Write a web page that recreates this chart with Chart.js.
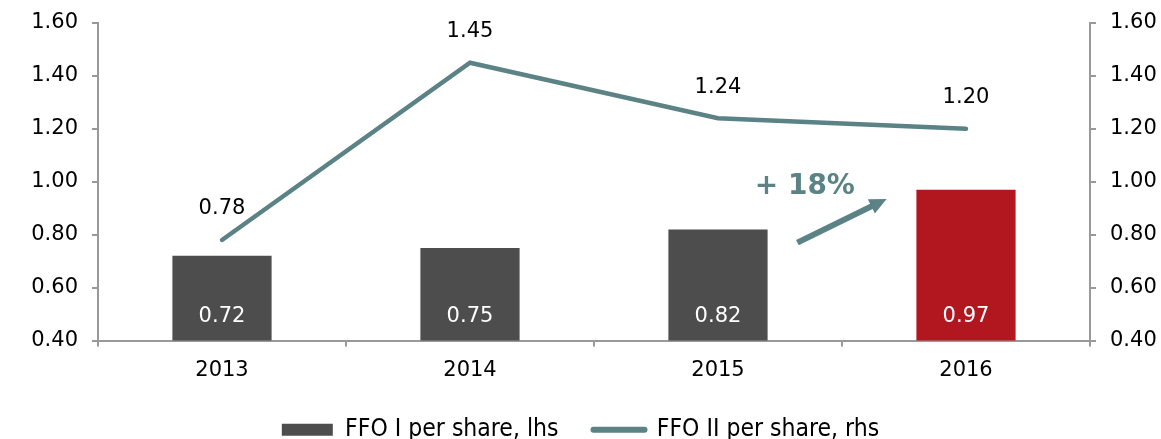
<!DOCTYPE html>
<html>
<head>
<meta charset="utf-8">
<script src="https://cdn.jsdelivr.net/npm/chart.js@4"></script>
<style>
  html, body { margin: 0; padding: 0; background: #fff; }
  #wrap { width: 1161px; height: 439px; }
</style>
</head>
<body>
<div id="wrap"><canvas id="grafica"></canvas></div>
<script>
const anios = ['2013', '2014', '2015', '2016'];
const ffo1 = [0.72, 0.75, 0.82, 0.97];
const ffo2 = [0.78, 1.45, 1.24, 1.20];
const coloresBarra = ['#4d4d4d', '#4d4d4d', '#4d4d4d', '#b2161f'];
const crecimiento = '+ 18%';

const verde = '#5b8385';
const fuente = 'DejaVu Sans, Verdana, sans-serif';

// etiquetas de valores y la flecha de crecimiento
const extras = {
  id: 'extras',
  afterDatasetsDraw(chart) {
    const ctx = chart.ctx;
    const x = chart.scales.x, y = chart.scales.y;
    const abajo = chart.chartArea.bottom;
    ctx.save();
    ctx.font = '21px ' + fuente;
    ctx.textAlign = 'center';
    ctx.textBaseline = 'middle';

    chart.getDatasetMeta(0).data.forEach((bar, i) => {
      ctx.fillStyle = '#ffffff';
      ctx.fillText(ffo1[i].toFixed(2), bar.x, abajo - 24);
    });
    chart.getDatasetMeta(1).data.forEach((pt, i) => {
      ctx.fillStyle = '#000000';
      ctx.fillText(ffo2[i].toFixed(2), pt.x, pt.y - 31);
    });

    // flecha
    const x0 = x.getPixelForValue(2.32), y0 = y.getPixelForValue(0.77);
    const x1 = x.getPixelForValue(2.68), y1 = y.getPixelForValue(0.935);
    const ang = Math.atan2(y1 - y0, x1 - x0);
    const head = 17;
    ctx.strokeStyle = verde;
    ctx.fillStyle = verde;
    ctx.lineWidth = 6;
    ctx.beginPath();
    ctx.moveTo(x0, y0);
    ctx.lineTo(x1 - Math.cos(ang) * head * 0.8, y1 - Math.sin(ang) * head * 0.8);
    ctx.stroke();
    ctx.beginPath();
    ctx.moveTo(x1, y1);
    ctx.lineTo(x1 - head * Math.cos(ang) + 8 * Math.sin(ang), y1 - head * Math.sin(ang) - 8 * Math.cos(ang));
    ctx.lineTo(x1 - head * Math.cos(ang) - 8 * Math.sin(ang), y1 - head * Math.sin(ang) + 8 * Math.cos(ang));
    ctx.closePath();
    ctx.fill();

    ctx.font = 'bold 28px ' + fuente;
    ctx.fillText(crecimiento, x.getPixelForValue(2.35), y.getPixelForValue(0.981));
    ctx.restore();
  }
};

const ejeY = (pos, ancho) => ({
  type: 'linear',
  position: pos,
  min: 0.4,
  max: 1.6,
  afterFit: s => { s.width = ancho; },
  border: { color: '#999999', width: 2 },
  grid: { drawOnChartArea: false, tickLength: 6, color: '#999999', lineWidth: 2 },
  ticks: {
    stepSize: 0.2,
    padding: 14,
    color: '#000000',
    font: { family: fuente, size: 21, lineHeight: 0.8 },
    callback: v => v.toFixed(2)
  }
});

new Chart(document.getElementById('grafica'), {
  type: 'bar',
  data: {
    labels: anios,
    datasets: [{
      label: 'FFO I per share, lhs',
      data: ffo1,
      backgroundColor: coloresBarra,
      borderWidth: 0,
      categoryPercentage: 0.8,
      barPercentage: 0.5,
      yAxisID: 'y',
      pointStyle: 'rect',
      order: 2
    }, {
      type: 'line',
      label: 'FFO II per share, rhs',
      data: ffo2,
      borderColor: verde,
      backgroundColor: verde,
      borderWidth: 4.5,
      borderCapStyle: 'round',
      pointRadius: 0,
      tension: 0,
      yAxisID: 'y1',
      pointStyle: 'line',
      order: 1
    }]
  },
  options: {
    responsive: true,
    maintainAspectRatio: false,
    animation: false,
    layout: { padding: { top: 23, bottom: -13, left: 0, right: 0 } },
    plugins: {
      tooltip: { enabled: false },
      legend: {
        position: 'bottom',
        labels: {
          usePointStyle: true,
          pointStyleWidth: 51,
          boxHeight: 12,
          padding: 35,
          color: '#000000',
          font: { family: 'DejaVu Sans Condensed, DejaVu Sans, sans-serif', size: 24.5 },
          generateLabels: chart => chart.data.datasets.map((d, i) => ({
            text: d.label,
            fillStyle: i === 0 ? '#4d4d4d' : verde,
            strokeStyle: i === 0 ? '#4d4d4d' : verde,
            lineWidth: i === 0 ? 0 : 6,
            lineCap: 'round',
            pointStyle: d.pointStyle,
            datasetIndex: i
          }))
        }
      }
    },
    scales: {
      x: {
        afterFit: s => { s.height = 42; },
        border: { color: '#999999', width: 2 },
        grid: { offset: true, drawOnChartArea: false, tickLength: 6, color: '#999999', lineWidth: 2 },
        ticks: { color: '#000000', padding: 11, font: { family: fuente, size: 21 } }
      },
      y: ejeY('left', 98),
      y1: ejeY('right', 71)
    }
  },
  plugins: [extras]
});
</script>
</body>
</html>
